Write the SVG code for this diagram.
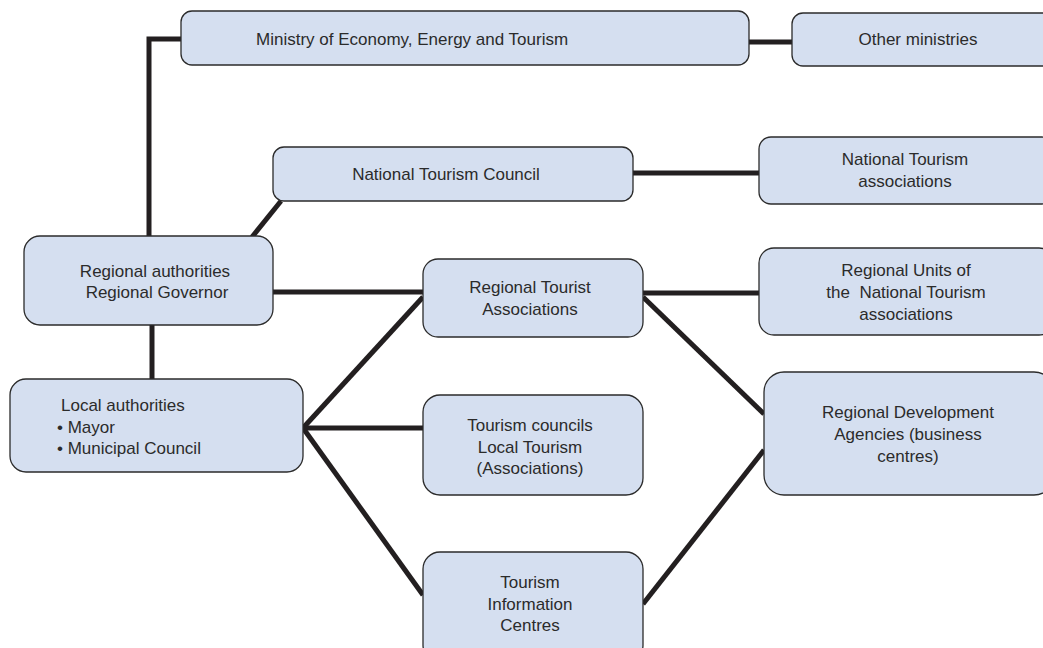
<svg xmlns="http://www.w3.org/2000/svg" width="1043" height="648" viewBox="0 0 1043 648">
<style>
.box{fill:#d5dff0;stroke:#2b2b2b;stroke-width:1.3}
.c{stroke:#231f20;stroke-width:5;fill:none}
text{font-family:"Liberation Sans Narrow","Liberation Sans",Arial,sans-serif;font-size:17px;fill:#2b2b2b}
.m{text-anchor:middle}
</style>
<rect width="1043" height="648" fill="#fff"/>
<g id="connectors">
<polyline class="c" points="181,39 149,39 149,237"/>
<line class="c" x1="749" y1="42" x2="792" y2="42"/>
<line class="c" x1="633" y1="173" x2="759" y2="173"/>
<line class="c" x1="252" y1="237" x2="281" y2="201"/>
<line class="c" x1="273" y1="292" x2="423" y2="292"/>
<line class="c" x1="643" y1="293" x2="759" y2="293"/>
<line class="c" x1="152" y1="325" x2="152" y2="379"/>
<line class="c" x1="303" y1="428" x2="423" y2="297"/>
<line class="c" x1="303" y1="428" x2="423" y2="428"/>
<line class="c" x1="303" y1="428" x2="423" y2="595"/>
<line class="c" x1="643" y1="297" x2="764" y2="414"/>
<line class="c" x1="643" y1="604" x2="764" y2="450"/>
</g>
<g id="ministry"><rect class="box" x="181" y="11" width="568" height="54" rx="11"/><text x="256" y="45">Ministry of Economy, Energy and Tourism</text></g>
<g id="other"><rect class="box" x="792" y="13" width="262" height="53" rx="11"/><text class="m" x="918" y="45">Other ministries</text></g>
<g id="ntc"><rect class="box" x="273" y="147" width="360" height="54" rx="11"/><text class="m" x="446" y="180">National Tourism Council</text></g>
<g id="nta"><rect class="box" x="759" y="137" width="295" height="67" rx="12"/><text class="m" x="905" y="165">National Tourism</text><text class="m" x="905" y="187">associations</text></g>
<g id="regauth"><rect class="box" x="24" y="236" width="249" height="89" rx="16"/><text class="m" x="155" y="277">Regional authorities</text><text class="m" x="157" y="298">Regional Governor</text></g>
<g id="rta"><rect class="box" x="423" y="259" width="220" height="78" rx="15"/><text class="m" x="530" y="293">Regional Tourist</text><text class="m" x="530" y="315">Associations</text></g>
<g id="runits"><rect class="box" x="759" y="248" width="295" height="87" rx="15"/><text class="m" x="906" y="276">Regional Units of</text><text class="m" x="906" y="298" xml:space="preserve">the  National Tourism</text><text class="m" x="906" y="320">associations</text></g>
<g id="local"><rect class="box" x="10" y="379" width="293" height="93" rx="16"/><text x="61" y="411">Local authorities</text><text x="57" y="433">• Mayor</text><text x="57" y="454">• Municipal Council</text></g>
<g id="tcouncils"><rect class="box" x="423" y="395" width="220" height="100" rx="17"/><text class="m" x="530" y="431">Tourism councils</text><text class="m" x="530" y="453">Local Tourism</text><text class="m" x="530" y="474">(Associations)</text></g>
<g id="tic"><rect class="box" x="423" y="552" width="220" height="110" rx="17"/><text class="m" x="530" y="588">Tourism</text><text class="m" x="530" y="610">Information</text><text class="m" x="530" y="631">Centres</text></g>
<g id="rda"><rect class="box" x="764" y="372" width="290" height="123" rx="20"/><text class="m" x="908" y="418">Regional Development</text><text class="m" x="908" y="440">Agencies (business</text><text class="m" x="908" y="462">centres)</text></g>
</svg>
